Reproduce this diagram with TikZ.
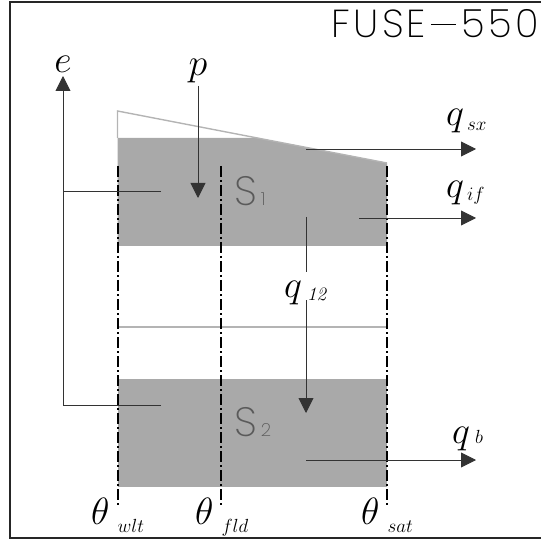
\RequirePackage{fix-cm}
\documentclass[tikz,border=0pt]{standalone}
\usepackage{fontspec}
\newfontfamily\lightsans{Poppins}[UprightFont={* ExtraLight}]
\newfontfamily\titlesans{Poppins}[UprightFont={* ExtraLight},LetterSpace=8]
\usetikzlibrary{arrows.meta}
\definecolor{fillgray}{HTML}{A9A9A9}
\definecolor{outgray}{HTML}{B4B4B4}
\definecolor{sgray}{HTML}{5A5A5A}
\newcommand{\Lbig}{\fontsize{38}{38}\selectfont}
\newcommand{\Lsub}{\fontsize{19}{19}\selectfont}
\newcommand{\lab}[4]{{\Lbig$#1$}\hspace{#3}\raisebox{-#4}{\Lsub$#2$}}
\begin{document}
\begin{tikzpicture}[x=1pt,y=-1pt,
  flow/.style={draw=black!80, line width=0.9pt, -{Triangle[length=15pt,width=15pt]}},
  plain/.style={draw=black!80, line width=0.9pt},
  limit/.style={draw=black, line width=1.8pt, dash pattern=on 11pt off 3pt on 2pt off 3pt},
  outline/.style={draw=outgray, line width=1.4pt},
  lbl/.style={inner sep=0pt, anchor=base west},
  storetxt/.style={inner sep=0pt, anchor=base west, text=sgray, font=\lightsans\fontsize{41}{41}\selectfont}]
\useasboundingbox (0,0) rectangle (541,540);
\clip (0,0) rectangle (541,540);
% frame
\draw[black!85, line width=1.6pt] (10,2) rectangle (560,538);
% title
\node[inner sep=0pt, anchor=base east, text=black, font=\titlesans\fontsize{39}{39}\selectfont] (title) at (539,38) {FUSE\hspace{5pt}\rule[13pt]{25pt}{1.1pt}\hspace{6pt}550};
% upper store
\fill[fillgray] (117.5,138) -- (257.5,138) -- (387,163) -- (387,246) -- (117.5,246) -- cycle;
\draw[outline] (117.5,138) -- (117.5,111) -- (387,163);
% lower store
\draw[outline] (117.5,327) -- (387,327);
\fill[fillgray] (117.5,379) rectangle (387,487);
% limits
\coordinate (w1) at (118,166); \coordinate (w2) at (118,508);
\coordinate (f1) at (221,166); \coordinate (f2) at (221,508);
\coordinate (s1) at (387,166); \coordinate (s2) at (387,508);
\draw[limit] (w1) -- (w2);
\draw[limit] (f1) -- (f2);
\draw[limit] (s1) -- (s2);
% store labels
\node[storetxt] (S1) at (234,206) {S\hspace{4pt}{\fontsize{18}{18}\selectfont 1}};
\node[storetxt] (S2) at (234,436) {S\hspace{4pt}{\fontsize{18}{18}\selectfont 2}};
% e
\coordinate (e1) at (161,191); \coordinate (e0) at (63,191);
\coordinate (e2) at (161,405); \coordinate (ec) at (63,405);
\coordinate (et) at (63,76);
\node[inner sep=0pt, anchor=base] (elab) at (63,73) {\Lbig$e$};
\draw[plain] (e1) -- (e0);
\draw[flow] (e2) -- (ec) -- (et);
% p
\node[inner sep=0pt, anchor=base] (plab) at (198,76) {\Lbig$p$};
\coordinate (p0) at (198,86); \coordinate (p1) at (198,198);
\draw[flow] (p0) -- (p1);
% q_sx
\coordinate (sx0) at (306,149); \coordinate (sx1) at (476,149);
\draw[flow] (sx0) -- (sx1);
\node[lbl] (qsx) at (446,126) {\lab{q}{sx}{3pt}{5pt}};
% q_if
\coordinate (if0) at (359,218); \coordinate (if1) at (476,218);
\draw[flow] (if0) -- (if1);
\node[lbl] (qif) at (446,198) {\lab{q}{if}{3pt}{3pt}};
% q_12
\coordinate (a0) at (306,217); \coordinate (a1) at (306,272);
\coordinate (a2) at (306,300); \coordinate (a3) at (306,413);
\draw[plain] (a0) -- (a1);
\draw[flow] (a2) -- (a3);
\node[lbl] (q12) at (284,298) {{\Lbig$q$}\hspace{5pt}\raisebox{-2pt}{\Lsub\itshape 12}};
% q_b
\coordinate (b0) at (306,460); \coordinate (b1) at (476,460);
\draw[flow] (b0) -- (b1);
\node[lbl] (qb) at (452,443) {\lab{q}{b}{5pt}{0pt}};
% thetas
\node[lbl] (twlt) at (91,524) {\lab{\theta}{wlt}{8pt}{8pt}};
\node[lbl] (tfld) at (195,524) {\lab{\theta}{fld}{8pt}{8pt}};
\node[lbl] (tsat) at (361,524) {\lab{\theta}{sat}{8pt}{8pt}};
\end{tikzpicture}
\end{document}
